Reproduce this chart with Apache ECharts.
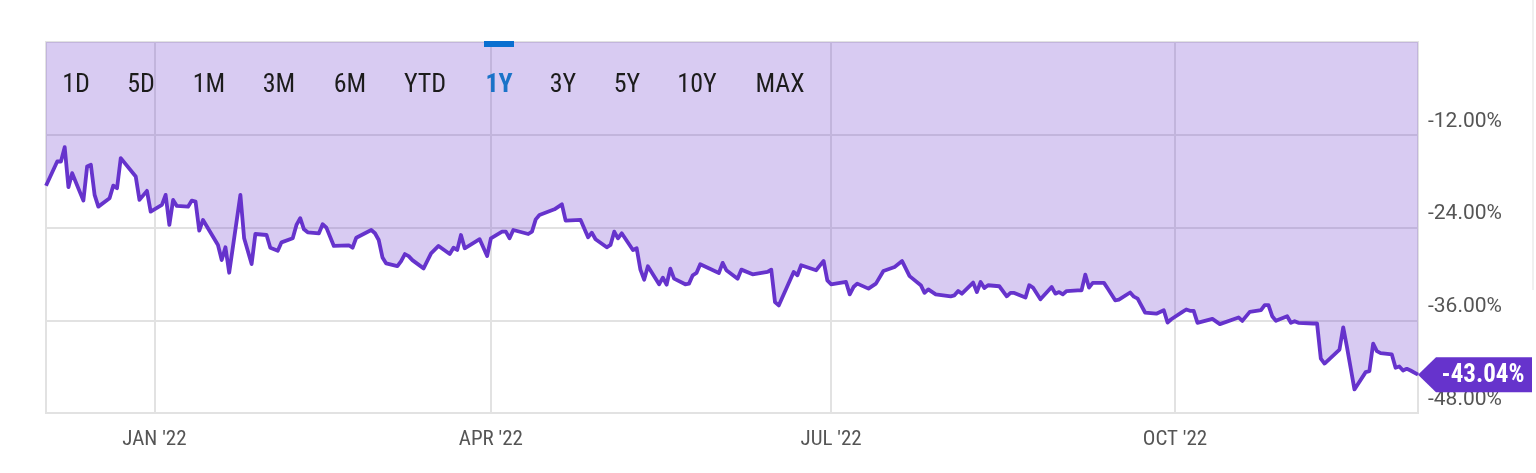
<!DOCTYPE html>
<html>
<head>
<meta charset="utf-8">
<script src="https://cdn.jsdelivr.net/npm/echarts@6/dist/echarts.min.js"></script>
<style>
html,body{margin:0;padding:0;background:#fff;}
#chart{width:1536px;height:473px;}
</style>
</head>
<body>
<div id="chart"></div>
<script>
// ---- data ----
const dates = [
'2021-12-03','2021-12-06','2021-12-07','2021-12-08','2021-12-09','2021-12-10','2021-12-13','2021-12-14','2021-12-15','2021-12-16',
'2021-12-17','2021-12-20','2021-12-21','2021-12-22','2021-12-23','2021-12-27','2021-12-28','2021-12-30','2021-12-31','2022-01-03',
'2022-01-04','2022-01-05','2022-01-06','2022-01-07','2022-01-10','2022-01-11','2022-01-12','2022-01-13','2022-01-14','2022-01-18',
'2022-01-19','2022-01-20','2022-01-21','2022-01-24','2022-01-25','2022-01-27','2022-01-28','2022-01-31','2022-02-01','2022-02-03',
'2022-02-04','2022-02-07','2022-02-08','2022-02-09','2022-02-10','2022-02-11','2022-02-14','2022-02-15','2022-02-16','2022-02-18',
'2022-02-22','2022-02-23','2022-02-24','2022-02-28','2022-03-01','2022-03-02','2022-03-03','2022-03-04','2022-03-07','2022-03-08',
'2022-03-09','2022-03-10','2022-03-11','2022-03-14','2022-03-16','2022-03-18','2022-03-21','2022-03-22','2022-03-23','2022-03-24',
'2022-03-25','2022-03-29','2022-03-31','2022-04-01','2022-04-04','2022-04-05','2022-04-06','2022-04-07','2022-04-11','2022-04-12',
'2022-04-13','2022-04-14','2022-04-18','2022-04-20','2022-04-21','2022-04-25','2022-04-27','2022-04-28','2022-04-29','2022-05-02',
'2022-05-03','2022-05-04','2022-05-05','2022-05-06','2022-05-09','2022-05-10','2022-05-11','2022-05-12','2022-05-13','2022-05-16',
'2022-05-17','2022-05-18','2022-05-19','2022-05-20','2022-05-23','2022-05-24','2022-05-25','2022-05-26','2022-05-27','2022-06-01',
'2022-06-02','2022-06-03','2022-06-06','2022-06-07','2022-06-10','2022-06-14','2022-06-15','2022-06-16','2022-06-17','2022-06-21',
'2022-06-22','2022-06-23','2022-06-27','2022-06-29','2022-06-30','2022-07-01','2022-07-05','2022-07-06','2022-07-07','2022-07-08',
'2022-07-11','2022-07-13','2022-07-15','2022-07-18','2022-07-20','2022-07-22','2022-07-25','2022-07-26','2022-07-27','2022-07-29',
'2022-08-02','2022-08-03','2022-08-04','2022-08-05','2022-08-08','2022-08-09','2022-08-10','2022-08-11','2022-08-12','2022-08-15',
'2022-08-17','2022-08-18','2022-08-19','2022-08-22','2022-08-23','2022-08-24','2022-08-26','2022-08-29','2022-08-30','2022-08-31',
'2022-09-01','2022-09-02','2022-09-05','2022-09-06','2022-09-07','2022-09-08','2022-09-09','2022-09-12','2022-09-13','2022-09-15',
'2022-09-16','2022-09-19','2022-09-20','2022-09-21','2022-09-23','2022-09-26','2022-09-28','2022-09-29','2022-09-30','2022-10-03',
'2022-10-04','2022-10-05','2022-10-06','2022-10-07','2022-10-11','2022-10-13','2022-10-18','2022-10-19','2022-10-21','2022-10-24',
'2022-10-25','2022-10-26','2022-10-27','2022-10-28','2022-10-31','2022-11-01','2022-11-02','2022-11-03','2022-11-07','2022-11-08',
'2022-11-09','2022-11-10','2022-11-14','2022-11-15','2022-11-16','2022-11-18','2022-11-21','2022-11-22','2022-11-23','2022-11-24',
'2022-11-25','2022-11-28','2022-11-29','2022-11-30','2022-12-01','2022-12-02','2022-12-03','2022-12-05'
];
const values = [
-18.60,-15.46,-15.46,-13.60,-18.78,-16.97,-20.52,-16.11,-15.89,-19.78,
-21.30,-20.22,-18.58,-18.92,-15.02,-17.41,-20.43,-19.26,-21.95,-21.08,
-19.78,-23.67,-20.43,-21.21,-21.30,-20.52,-20.65,-24.41,-23.02,-26.26,
-28.21,-26.56,-29.85,-19.78,-25.40,-28.73,-24.84,-24.97,-26.62,-27.00,
-25.92,-25.40,-23.67,-22.80,-24.23,-24.62,-24.75,-23.58,-24.02,-26.39,
-26.30,-26.62,-25.32,-24.33,-24.75,-25.62,-27.87,-28.65,-29.00,-28.35,
-27.44,-27.70,-28.22,-29.29,-27.35,-26.39,-27.43,-26.62,-26.91,-24.97,
-26.69,-25.52,-27.69,-25.40,-24.54,-24.54,-25.40,-24.32,-24.84,-24.54,
-22.95,-22.38,-21.65,-21.00,-23.12,-23.02,-25.27,-24.67,-25.52,-26.56,
-26.26,-24.54,-25.40,-24.75,-26.91,-26.69,-29.45,-30.75,-29.02,-31.35,
-30.49,-31.40,-29.32,-30.62,-31.35,-31.26,-30.18,-29.88,-28.75,-29.88,
-28.58,-29.53,-30.62,-29.45,-30.06,-29.75,-29.45,-33.65,-34.08,-29.75,
-30.18,-28.88,-29.53,-28.32,-30.84,-31.35,-31.05,-32.65,-31.70,-31.26,
-31.91,-31.26,-29.62,-29.10,-28.35,-30.29,-31.46,-32.45,-32.00,-32.65,
-32.90,-32.78,-32.22,-32.56,-31.13,-32.35,-31.05,-31.83,-31.47,-31.60,
-32.90,-32.46,-32.46,-33.07,-31.47,-31.77,-33.29,-31.70,-32.56,-32.35,
-32.65,-32.22,-32.13,-32.13,-30.10,-31.77,-31.16,-31.16,-31.90,-33.42,
-33.33,-32.41,-32.95,-33.20,-35.00,-35.15,-34.70,-36.30,-35.87,-34.92,
-34.61,-34.78,-34.78,-36.33,-35.82,-36.50,-35.64,-36.08,-34.92,-34.70,
-34.05,-34.05,-35.48,-36.08,-35.48,-36.33,-36.12,-36.33,-36.42,-36.42,
-40.96,-41.60,-39.79,-36.93,-39.47,-44.95,-42.71,-42.58,-39.03,-39.99,
-40.25,-40.42,-42.15,-41.98,-42.50,-42.28,-42.50,-43.04
];
const xTickDates = ['2022-01-01','2022-04-01','2022-07-01','2022-10-01'];
const xTickLabels = ["JAN '22","APR '22","JUL '22","OCT '22"];
const yMin = -48, yMax = 0, yStep = 12;
const rangeButtons = ['1D','5D','1M','3M','6M','YTD','1Y','3Y','5Y','10Y','MAX'];
const activeRange = '1Y';
const lastValueLabel = '-43.04%';

// ---- layout (not data) ----
const buttonX = [76,141,209,279,350,425,499,563,627,697,780];

function toTs(s){const p=s.split('-');return new Date(+p[0],+p[1]-1,+p[2]).getTime();}
const seriesData = dates.map((d,i)=>[toTs(d), values[i]]);
const xTickTs = xTickDates.map(toTs);
const lastPoint = seriesData[seriesData.length-1];

const condensed = "'Roboto Condensed','Liberation Sans Narrow','Arial Narrow','DejaVu Sans Condensed',Roboto,sans-serif";

const graphics = rangeButtons.map((b,i)=>({
  type:'text', x:buttonX[i], y:85, z:100,
  style:{text:b, fontSize:26, fontFamily:condensed,
    fontWeight: b===activeRange?'bold':'normal',
    fill: b===activeRange?'#1a73c8':'#1c1c1c',
    align:'center', verticalAlign:'middle'}
}));
const ai = rangeButtons.indexOf(activeRange);
graphics.push({type:'rect', z:100, shape:{x:buttonX[ai]-15, y:41, width:30, height:6}, style:{fill:'#0a6fd0'}});
graphics.push({type:'rect', z:1, shape:{x:1532, y:0, width:2, height:290}, style:{fill:'#f0f0f0'}});

const chart = echarts.init(document.getElementById('chart'), null, {renderer:'canvas'});
chart.setOption({
  animation:false,
  backgroundColor:'#fff',
  grid:{left:46, right:118, top:42, bottom:60, show:true, borderColor:'#e2e2e2', borderWidth:2, backgroundColor:'transparent'},
  xAxis:{
    type:'value',
    min: seriesData[0][0], max: lastPoint[0],
    axisLine:{show:false},
    axisTick:{show:false, customValues:xTickTs},
    axisLabel:{customValues:xTickTs, color:'#555', fontSize:21, fontFamily:condensed, margin:16,
      showMinLabel:true, showMaxLabel:true,
      formatter:(v)=>{const i=xTickTs.indexOf(v);return i>=0?xTickLabels[i]:'';}},
    splitLine:{show:true, lineStyle:{color:'#e2e2e2', width:2}}
  },
  yAxis:{
    type:'value', position:'right', min:yMin, max:yMax, interval:yStep,
    axisLine:{show:false}, axisTick:{show:false},
    axisLabel:{color:'#555', fontSize:21, fontFamily:'Roboto, sans-serif', margin:10,
      verticalAlign:'bottom', padding:[0,0,3,0],
      formatter:(v)=> v===0 ? '' : v.toFixed(2)+'%'},
    splitLine:{show:true, lineStyle:{color:'#e2e2e2', width:2}}
  },
  graphic: graphics,
  series:[{
    type:'line',
    data: seriesData,
    showSymbol:false,
    symbol:'none',
    lineStyle:{color:'#6633cc', width:3.8, join:'round'},
    itemStyle:{color:'#6633cc'},
    areaStyle:{origin:'end', color:'rgba(102,51,204,0.255)', opacity:1},
    markPoint:{
      silent:true,
      symbol:'path://M0,17.5L18,0L114,0L114,35L18,35Z',
      symbolSize:[114,35],
      symbolKeepAspect:false,
      symbolOffset:[57,0],
      itemStyle:{color:'#6633cc'},
      label:{show:true, position:'inside', offset:[8,1], color:'#fff', fontSize:25, fontWeight:'bold',
        fontFamily:condensed, formatter:()=>lastValueLabel},
      data:[{coord:lastPoint}]
    }
  }]
});
</script>
</body>
</html>
